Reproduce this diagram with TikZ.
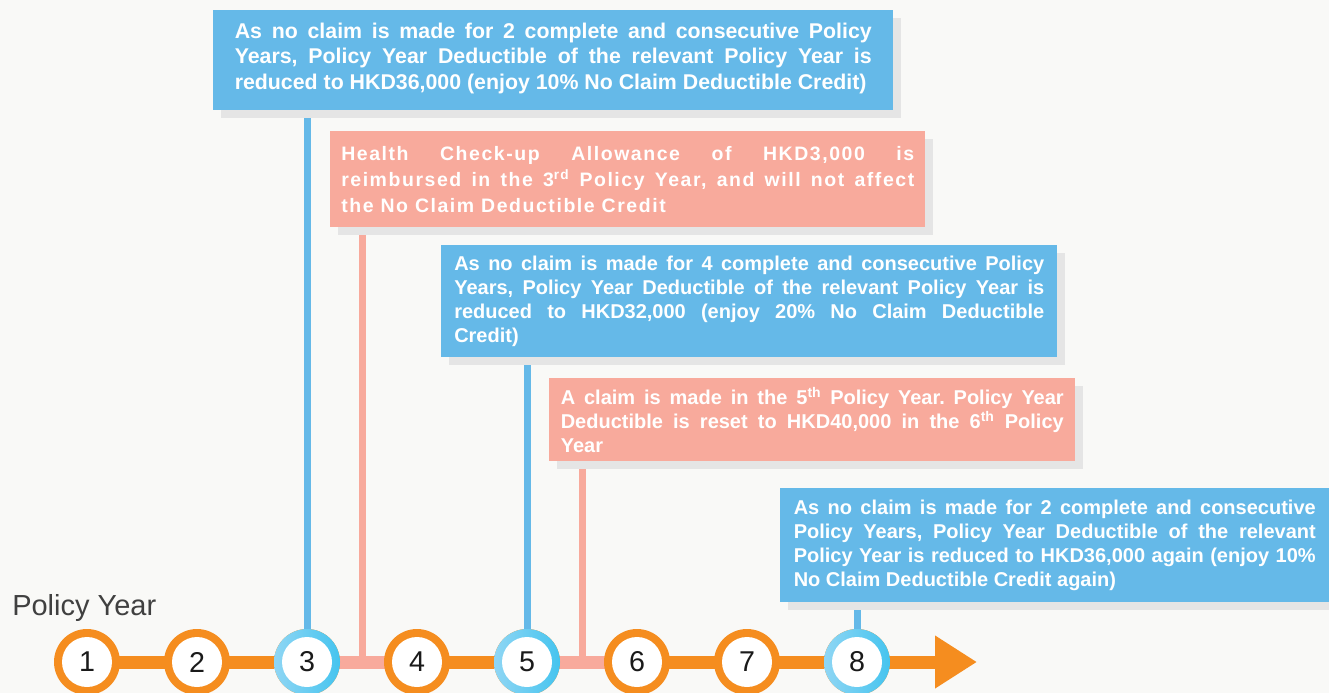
\documentclass[tikz,border=0pt]{standalone}
\usepackage{fontspec}
\setmainfont{Liberation Sans}
\newfontfamily\spacedfont{Liberation Sans}[LetterSpace=8]
\usetikzlibrary{shapes, arrows.meta, positioning, calc, shadows}
\definecolor{bgcol}{HTML}{F9F9F7}
\definecolor{boxblue}{HTML}{65B9E8}
\definecolor{boxpink}{HTML}{F8AA9C}
\definecolor{shadowgray}{HTML}{E5E5E5}
\definecolor{lineorange}{HTML}{F58D1F}
\definecolor{ringblueL}{HTML}{8FD6F4}
\definecolor{ringblueR}{HTML}{45C4EF}
\definecolor{numcol}{HTML}{1A1A1A}
\definecolor{labelgray}{HTML}{404040}
\pgfdeclarelayer{bg}
\pgfdeclarelayer{lines}
\pgfsetlayers{bg,lines,main}
\tikzset{
	box/.style={anchor=north west, inner ysep=0pt, align=justify, text=white,
		drop shadow={shadow xshift=6pt, shadow yshift=-6pt, opacity=1, fill=shadowgray}},
	bluebox/.style={box, fill=boxblue, font=\fontsize{15}{18}\selectfont\bfseries},
	pinkbox/.style={box, fill=boxpink, font=\fontsize{15}{18}\selectfont\bfseries},
	ring/.style={circle, minimum size=49.5pt, inner sep=0pt, outer sep=0pt, fill=lineorange},
	bluering/.style={ring, left color=ringblueL, right color=ringblueR},
	disk/.style={circle, minimum size=37.5pt, inner sep=0pt, fill=white, text=numcol,
		font=\fontsize{21.5}{21.5}\selectfont},
	timeline/.style={line width=9.75pt, lineorange, -{Triangle[length=31.5pt, width=37.5pt]}},
	pinkbar/.style={line width=9.75pt, boxpink},
	pinkline/.style={line width=5.25pt, boxpink},
	blueline/.style={line width=5.25pt, boxblue}
}
\hbadness=10000
\tolerance=10000
\hyphenpenalty=10000
\exhyphenpenalty=10000
\frenchspacing
\begin{document}
\begin{tikzpicture}[x=0.75pt, y=-0.75pt, node distance=33pt]
	\useasboundingbox (0,0) rectangle (1329,693);
	\begin{pgfonlayer}{bg}
		\fill[bgcol] (0,0) rectangle (1329,693);
	\end{pgfonlayer}
	% text boxes
	\node[bluebox,
	font=\fontsize{16}{19.1}\selectfont\bfseries,
	minimum width=510pt,
	minimum height=75pt,
	text width=477.75pt,
	inner xsep=16.125pt] (block1) at (213,10) {
	As no claim is made for 2 complete and consecutive Policy\linebreak
	Years, Policy Year Deductible of the relevant Policy Year is\linebreak
	reduced to HKD36,000 (enjoy 10\% No Claim Deductible Credit)\vspace{3pt}
	};
	\node[pinkbox,
	font=\spacedfont\fontsize{14.6}{19.5}\selectfont\bfseries,
	minimum width=446.25pt,
	minimum height=72pt,
	text width=429.75pt,
	inner xsep=8.25pt] (block2) at (330,131) {
	Health Check-up Allowance of HKD3,000 is\linebreak
	reimbursed in the 3\textsuperscript{rd} Policy Year, and will not affect\linebreak
	the No Claim Deductible Credit
	};
	\node[bluebox,
	minimum width=462pt,
	minimum height=84pt,
	text width=442.5pt,
	inner xsep=9.75pt] (block3) at (441,245) {
	As no claim is made for 4 complete and consecutive Policy\linebreak
	Years, Policy Year Deductible of the relevant Policy Year is\linebreak
	reduced to HKD32,000 (enjoy 20\% No Claim Deductible\linebreak
	Credit)
	};
	\node[pinkbox,
	minimum width=394.5pt,
	minimum height=62.25pt,
	text width=377.25pt,
	inner xsep=8.625pt] (block4) at (549,378) {
	A claim is made in the 5\textsuperscript{th} Policy Year. Policy Year\linebreak
	Deductible is reset to HKD40,000 in the 6\textsuperscript{th} Policy\linebreak
	Year
	};
	\node[bluebox,
	minimum width=411.75pt,
	minimum height=85.5pt,
	text width=391.5pt,
	inner xsep=10.125pt] (block5) at (780,488) {
	As no claim is made for 2 complete and consecutive\linebreak
	Policy Years, Policy Year Deductible of the relevant\linebreak
	Policy Year is reduced to HKD36,000 again (enjoy 10\%\linebreak
	No Claim Deductible Credit again)
	};
	% axis label
	\node[anchor=base west, inner sep=0pt, text=labelgray,
	font=\fontsize{21.75}{22}\selectfont] (axislabel) at (12,615) {Policy Year};
	% year rings
	\node[ring] (ring1) at (87,662) {};
	\node[ring, right=of ring1] (ring2) {};
	\node[bluering, right=of ring2] (ring3) {};
	\node[ring, right=of ring3] (ring4) {};
	\node[bluering, right=of ring4] (ring5) {};
	\node[ring, right=of ring5] (ring6) {};
	\node[ring, right=of ring6] (ring7) {};
	\node[bluering, right=of ring7] (ring8) {};
	\node[disk] (year1) at (ring1) {1};
	\node[disk] (year2) at (ring2) {2};
	\node[disk] (year3) at (ring3) {3};
	\node[disk] (year4) at (ring4) {4};
	\node[disk] (year5) at (ring5) {5};
	\node[disk] (year6) at (ring6) {6};
	\node[disk] (year7) at (ring7) {7};
	\node[disk] (year8) at (ring8) {8};
	\coordinate (arrowtip) at (977,662);
	\coordinate (mid34) at ($(ring3)!0.5!(ring4)$);
	\coordinate (mid56) at ($(ring5)!0.5!(ring6)$);
	% Lines
	\begin{pgfonlayer}{lines}
		\draw[timeline] (ring1.center) -- (arrowtip);
		\draw[pinkbar] (ring3.center) -- (ring4.center);
		\draw[pinkbar] (ring5.center) -- (ring6.center);
		\draw[blueline] (ring3.center) -- (ring3.center |- block1.south);
		\draw[pinkline] (mid34) -- (mid34 |- block2.south);
		\draw[blueline] (ring5.center) -- (ring5.center |- block3.south);
		\draw[pinkline] (mid56) -- (mid56 |- block4.south);
		\draw[blueline] (ring8.center) -- (ring8.center |- block5.south);
	\end{pgfonlayer}
\end{tikzpicture}
\end{document}
